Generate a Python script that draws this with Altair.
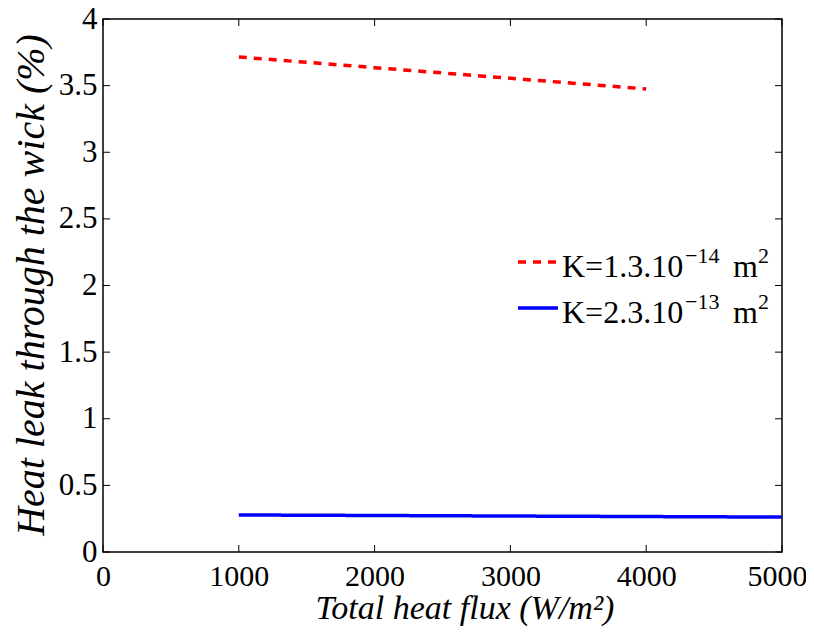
import altair as alt
import pandas as pd

# ---- data ----
series_names = ["K=1.3.10^-14 m^2", "K=2.3.10^-13 m^2"]
legend_base = ["K=1.3.10", "K=2.3.10"]
legend_exp = ["\u221214", "\u221213"]
series_colors = ["#ff0000", "#0000ff"]
series_dash = [[8, 7], [1, 0]]

flux_red = [1000, 2000, 3000, 4000]
leak_red = [3.715, 3.635, 3.555, 3.475]

flux_blue = [1000, 2000, 3000, 4000, 5000]
leak_blue = [0.278, 0.274, 0.270, 0.266, 0.262]

x_ticks = [0, 1000, 2000, 3000, 4000, 5000]
y_ticks = [0, 0.5, 1, 1.5, 2, 2.5, 3, 3.5, 4]

W, H = 679, 533
FONT = "'Times New Roman', 'Liberation Serif', Times, serif"

df = pd.concat([
    pd.DataFrame({"flux": flux_red, "leak": leak_red, "series": series_names[0]}),
    pd.DataFrame({"flux": flux_blue, "leak": leak_blue, "series": series_names[1]}),
])
xt = pd.DataFrame({"t": x_ticks})
yt = pd.DataFrame({"t": y_ticks})

xs = alt.Scale(domain=[0, 5000], nice=False, zero=False)
ys = alt.Scale(domain=[0, 4], nice=False, zero=False)

lines = alt.Chart(df).mark_line(strokeWidth=3.5, strokeCap="butt").encode(
    x=alt.X("flux:Q", scale=xs, axis=alt.Axis(
        values=x_ticks, format="d", grid=False, domain=False, ticks=False, tickSize=0,
        labelFont=FONT, labelFontSize=30, labelColor="black", labelPadding=9,
        labelFlush=False, labelOverlap=False,
        labelOffset={"condition": {"test": "datum.value == 5000", "value": -5}, "value": 0},
        title="Total heat flux (W/m²)", titleFont=FONT, titleFontSize=34,
        titleFontStyle="italic", titleFontWeight="normal", titleColor="black",
        titleX=361.5, titleY=66, titleAlign="center", titleBaseline="alphabetic")),
    y=alt.Y("leak:Q", scale=ys, axis=alt.Axis(
        values=y_ticks, format="~g", grid=False, domain=False, ticks=False, tickSize=0,
        labelFont=FONT, labelFontSize=31, labelColor="black", labelPadding=6,
        labelFlush=False, labelOverlap=False,
        title="Heat leak through the wick (%)", titleFont=FONT, titleFontSize=40,
        titleFontStyle="italic", titleFontWeight="normal", titleColor="black",
        titleAngle=-90, titleX=-60, titleY=265.5, titleAlign="center",
        titleBaseline="alphabetic")),
    color=alt.Color("series:N", scale=alt.Scale(domain=series_names, range=series_colors),
                    legend=None),
    strokeDash=alt.StrokeDash("series:N", scale=alt.Scale(domain=series_names, range=series_dash),
                              legend=None),
)

tick_style = dict(color="black", strokeWidth=1)
bottom_ticks = alt.Chart(xt).mark_rule(**tick_style).encode(
    x=alt.X("t:Q", scale=xs), y=alt.value(H), y2=alt.value(H - 7))
top_ticks = alt.Chart(xt).mark_rule(**tick_style).encode(
    x=alt.X("t:Q", scale=xs), y=alt.value(0), y2=alt.value(7))
left_ticks = alt.Chart(yt).mark_rule(**tick_style).encode(
    y=alt.Y("t:Q", scale=ys), x=alt.value(0), x2=alt.value(7))
right_ticks = alt.Chart(yt).mark_rule(**tick_style).encode(
    y=alt.Y("t:Q", scale=ys), x=alt.value(W), x2=alt.value(W - 7))

# ---- legend (drawn by hand so that the exponents are true superscripts) ----
LEG_X, LEG_Y, ROW = 415, 258, 46
legend_layers = []
for i in range(len(series_names)):
    base_y = LEG_Y + i * ROW
    legend_layers.append(
        alt.Chart().mark_rule(color=series_colors[i], strokeWidth=3.5, strokeDash=series_dash[i],
                              strokeCap="butt").encode(
            x=alt.value(LEG_X), x2=alt.value(LEG_X + 40), y=alt.value(base_y - 15)))
    legend_layers.append(
        alt.Chart().mark_text(text=legend_base[i], font=FONT, fontSize=32, align="left",
                              baseline="alphabetic", color="black").encode(
            x=alt.value(LEG_X + 44), y=alt.value(base_y)))
    legend_layers.append(
        alt.Chart().mark_text(text=legend_exp[i], font=FONT, fontSize=22, align="left",
                              baseline="alphabetic", color="black").encode(
            x=alt.value(LEG_X + 167), y=alt.value(base_y - 14)))
    legend_layers.append(
        alt.Chart().mark_text(text="m", font=FONT, fontSize=32, align="left",
                              baseline="alphabetic", color="black").encode(
            x=alt.value(LEG_X + 215), y=alt.value(base_y)))
    legend_layers.append(
        alt.Chart().mark_text(text="2", font=FONT, fontSize=22, align="left",
                              baseline="alphabetic", color="black").encode(
            x=alt.value(LEG_X + 240), y=alt.value(base_y - 14)))

chart = alt.layer(lines, bottom_ticks, top_ticks, left_ticks, right_ticks,
                  *legend_layers).properties(
    width=W, height=H,
    background="white",
    autosize=alt.AutoSizeParams(type="none"),
    padding={"left": 95, "top": 11, "right": 24, "bottom": 80},
).configure_view(
    stroke="black", strokeWidth=1.5
)

chart.save("out.html", embed_options={"renderer": "svg", "actions": False})
